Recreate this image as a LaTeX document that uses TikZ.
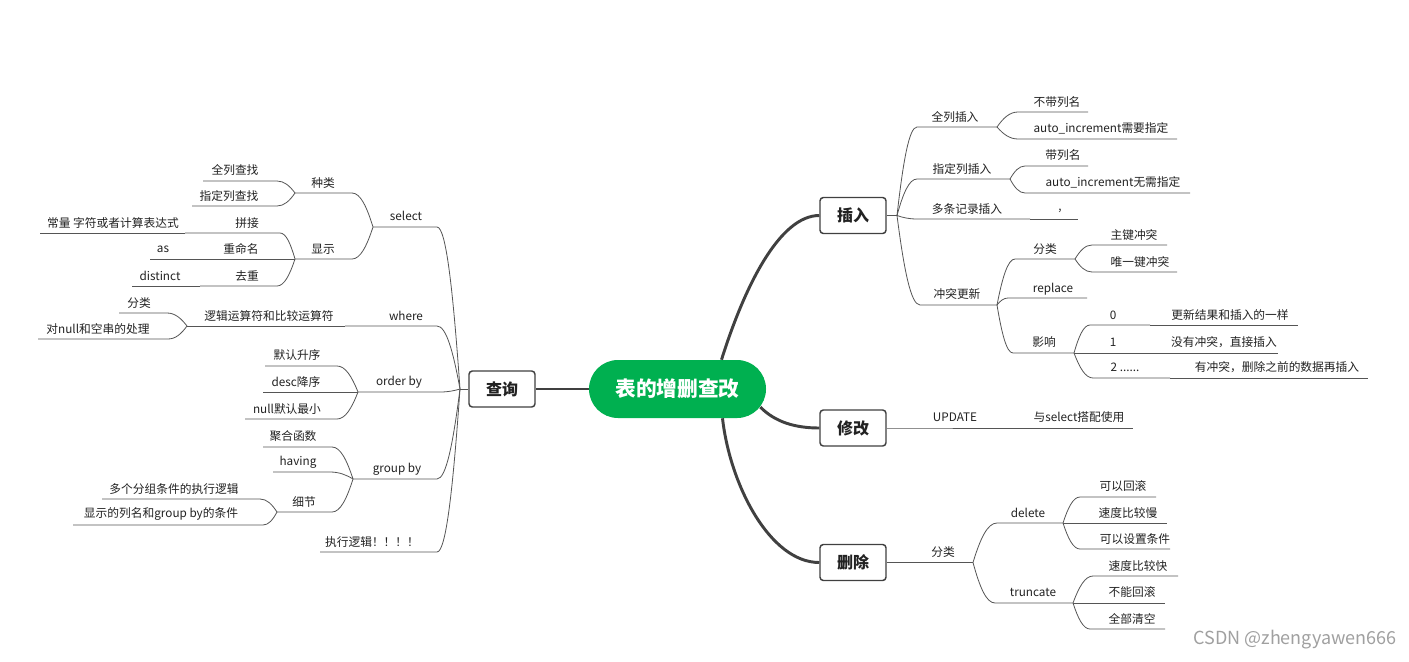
\documentclass[tikz,border=0pt]{standalone}
\usepackage{fontspec}
\setmainfont{Noto Sans CJK SC}
\usetikzlibrary{calc}
\definecolor{pillgreen}{RGB}{0,176,80}
\definecolor{linegray}{RGB}{85,85,85}
\definecolor{thickgray}{RGB}{64,64,64}
\definecolor{txt}{RGB}{34,34,34}
\definecolor{wmgray}{RGB}{160,160,160}
% #1 name, #2 #3 text centre, #4 text, #5 inner x, #6 outer x, #7 line y
\newcommand\mmtopic[7]{\node[lbl] (#1) at (#2,#3) {#4};
  \coordinate (#1-i) at (#5,#7); \coordinate (#1-o) at (#6,#7);}
% link parent junction #1 to child #2
\newcommand\mmlink[2]{\draw[branch] let \p1=(#1), \p2=(#2-i) in (#1)
  .. controls ({\x1+0.3*(\x2-\x1)},{\y1+0.6*(\y2-\y1)}) and ({\x2-0.4*(\x2-\x1)},{\y2}) .. (#2-i) -- (#2-o);}
\begin{document}
\begin{tikzpicture}[x=0.75pt,y=-0.75pt,
  lbl/.style={inner sep=0pt, font=\fontsize{8.8}{10}\selectfont, text=txt},
  topbox/.style={draw=thickgray, line width=1.1pt, rounded corners=2.5pt, fill=white,
    minimum width=49.5pt, minimum height=27pt, inner sep=0pt,
    font=\fontsize{12}{14}\selectfont\bfseries, text=txt},
  pill/.style={fill=pillgreen, rounded corners=21.7pt, minimum width=132.75pt,
    minimum height=43.5pt, inner sep=0pt, text=white,
    font=\fontsize{15.5}{18}\selectfont\bfseries},
  trunk/.style={draw=thickgray, line width=2.2pt},
  branch/.style={draw=linegray, line width=0.6pt}]
\fill[white] (0,0) rectangle (1409,661);
\useasboundingbox (0,0) rectangle (1409,661);

% central node and main topics
\node[pill] (root) at (677.5,389) {表的增删查改};
\node[topbox] (cx) at (502,389) {查询};
\node[topbox] (cr) at (853,215.5) {插入};
\node[topbox] (xg) at (853,428) {修改};
\node[topbox] (sc) at (853,562.5) {删除};

\draw[trunk] (root.west) -- (cx.east);
\draw[trunk] ($(root.north)+(44,0)$) .. controls (745,285) and (780,215.5) .. (cr.west);
\draw[trunk] ($(root.east)+(-6,18)$) .. controls (775,422) and (795,428) .. (xg.west);
\draw[trunk] ($(root.south)+(45,0)$) .. controls (730,485) and (770,562.5) .. (sc.west);

\coordinate (cxj) at (460,389);
\coordinate (crj) at (897,215.5);
\draw[branch] (cx.west) -- (cxj);
\draw[branch] (cr.east) -- (crj);

% ---------------- 查询 ----------------
\mmtopic{sel}{406}{216}{select}{437}{373}{227}
\mmtopic{whr}{406}{316}{where}{437}{345}{326}
\mmtopic{ord}{399}{382}{order by}{440}{358}{392}
\mmtopic{grp}{397}{469}{group by}{437}{353}{479}
\mmtopic{exe}{372}{542}{执行逻辑！！！！}{437}{320}{552}
\mmlink{cxj}{sel}\mmlink{cxj}{whr}\mmlink{cxj}{ord}\mmlink{cxj}{grp}\mmlink{cxj}{exe}

\mmtopic{zl}{323}{183}{种类}{352}{295}{193}
\mmtopic{xs}{323}{249}{显示}{352}{295}{259}
\mmlink{sel-o}{zl}\mmlink{sel-o}{xs}

\mmtopic{qlcz}{235}{170}{全列查找}{277}{203}{181}
\mmtopic{zdcz}{229}{196}{指定列查找}{277}{192}{206}
\mmlink{zl-o}{qlcz}\mmlink{zl-o}{zdcz}

\mmtopic{pj}{247}{223}{拼接}{280}{185}{233}
\mmtopic{cl}{113}{223}{常量 字符或者计算表达式}{185}{40}{233}
\mmtopic{cmm}{241}{249}{重命名}{295}{190}{259}
\mmtopic{as}{163}{249}{as}{190}{150}{259}
\mmtopic{qc}{247}{276}{去重}{277}{200}{286}
\mmtopic{dst}{160}{276}{distinct}{200}{132}{286}
\mmlink{xs-o}{pj}\mmlink{pj-o}{cl}
\mmlink{xs-o}{cmm}\mmlink{cmm-o}{as}
\mmlink{xs-o}{qc}\mmlink{qc-o}{dst}

\mmtopic{ljys}{269}{316}{逻辑运算符和比较运算符}{345}{187}{326}
\mmlink{whr-o}{ljys}
\mmtopic{flq}{139}{303}{分类}{167}{119}{313}
\mmtopic{dnull}{98}{329}{对null和空串的处理}{168}{38}{339}
\mmlink{ljys-o}{flq}\mmlink{ljys-o}{dnull}

\mmtopic{mrsx}{297}{355}{默认升序}{337}{265}{366}
\mmtopic{desc}{296}{382}{desc降序}{358}{263}{392}
\mmtopic{nmr}{287}{409}{null默认最小}{337}{245}{419}
\mmlink{ord-o}{mrsx}\mmlink{ord-o}{desc}\mmlink{ord-o}{nmr}

\mmtopic{jhhs}{293}{436}{聚合函数}{332}{263}{447}
\mmtopic{hav}{298}{462}{having}{330}{273}{472}
\mmtopic{xj}{304}{502}{细节}{332}{277}{512}
\mmlink{grp-o}{jhhs}\mmlink{grp-o}{hav}\mmlink{grp-o}{xj}

\mmtopic{dgfz}{174}{489}{多个分组条件的执行逻辑}{260}{102}{499}
\mmtopic{xslm}{161}{514}{显示的列名和group by的条件}{263}{73}{525}
\mmlink{xj-o}{dgfz}\mmlink{xj-o}{xslm}

% ---------------- 插入 ----------------
\mmtopic{qlcr}{955}{117}{全列插入}{917}{997}{127}
\mmtopic{zdcr}{962}{169}{指定列插入}{917}{1010}{179}
\mmtopic{dtjl}{967}{209}{多条记录插入}{917}{1030}{219}
\mmtopic{ctgx}{957}{294}{冲突更新}{920}{997}{305}
\mmlink{crj}{qlcr}\mmlink{crj}{zdcr}\mmlink{crj}{dtjl}\mmlink{crj}{ctgx}

\mmtopic{bdlm}{1057}{102}{不带列名}{1018}{1088}{112}
\mmtopic{aixy}{1101}{128}{auto\_increment需要指定}{1018}{1177}{139}
\mmlink{qlcr-o}{bdlm}\mmlink{qlcr-o}{aixy}

\mmtopic{dlm}{1063}{155}{带列名}{1025}{1088}{166}
\mmtopic{aiwx}{1113}{182}{auto\_increment无需指定}{1025}{1190}{193}
\mmlink{zdcr-o}{dlm}\mmlink{zdcr-o}{aiwx}

\mmtopic{dh}{1060}{211}{,}{1030}{1078}{219}
\mmlink{dtjl-o}{dh}

\mmtopic{flc}{1045}{249}{分类}{1015}{1075}{259}
\mmtopic{rep}{1053}{289}{replace}{1008}{1087}{298}
\mmtopic{yx}{1044}{342}{影响}{1013}{1074}{353}
\mmlink{ctgx-o}{flc}\mmlink{ctgx-o}{rep}\mmlink{ctgx-o}{yx}

\mmtopic{zjct}{1134}{235}{主键冲突}{1092}{1167}{245}
\mmtopic{wyjct}{1140}{262}{唯一键冲突}{1092}{1177}{272}
\mmlink{flc-o}{zjct}\mmlink{flc-o}{wyjct}

\mmtopic{yx0}{1113}{315}{0}{1090}{1150}{325}
\mmtopic{yx0t}{1230}{315}{更新结果和插入的一样}{1150}{1298}{325}
\mmtopic{yx1}{1113}{342}{1}{1074}{1150}{353}
\mmtopic{yx1t}{1224}{342}{没有冲突，直接插入}{1150}{1278}{353}
\mmtopic{yx2}{1125}{367}{2 ......}{1093}{1170}{378}
\mmtopic{yx2t}{1277}{367}{有冲突，删除之前的数据再插入}{1170}{1368}{378}
\mmlink{yx-o}{yx0}\mmlink{yx0-o}{yx0t}
\mmlink{yx-o}{yx1}\mmlink{yx1-o}{yx1t}
\mmlink{yx-o}{yx2}\mmlink{yx2-o}{yx2t}

% ---------------- 修改 ----------------
\mmtopic{upd}{955}{417}{UPDATE}{887}{1020}{428}
\mmtopic{yse}{1079}{417}{与select搭配使用}{1020}{1133}{428}
\mmlink{xg.east}{upd}\mmlink{upd-o}{yse}

% ---------------- 删除 ----------------
\mmtopic{fls}{943}{552}{分类}{887}{973}{562.5}
\mmlink{sc.east}{fls}
\mmtopic{del}{1028}{513}{delete}{997}{1063}{523}
\mmtopic{trc}{1033}{592}{truncate}{995}{1073}{603}
\mmlink{fls-o}{del}\mmlink{fls-o}{trc}

\mmtopic{kyhg}{1123}{486}{可以回滚}{1080}{1156}{497}
\mmtopic{sdm}{1128}{513}{速度比较慢}{1063}{1167}{523}
\mmtopic{kysz}{1135}{539}{可以设置条件}{1080}{1170}{549}
\mmlink{del-o}{kyhg}\mmlink{del-o}{sdm}\mmlink{del-o}{kysz}

\mmtopic{sdk}{1138}{566}{速度比较快}{1093}{1178}{576}
\mmtopic{bnhg}{1132}{592}{不能回滚}{1073}{1165}{603}
\mmtopic{qbqk}{1132}{619}{全部清空}{1090}{1165}{629}
\mmlink{trc-o}{sdk}\mmlink{trc-o}{bnhg}\mmlink{trc-o}{qbqk}

% watermark
\node[inner sep=0pt, text=wmgray, font=\fontsize{13.5}{15}\selectfont] (wm) at (1295,640) {CSDN @zhengyawen666};
\end{tikzpicture}
\end{document}
